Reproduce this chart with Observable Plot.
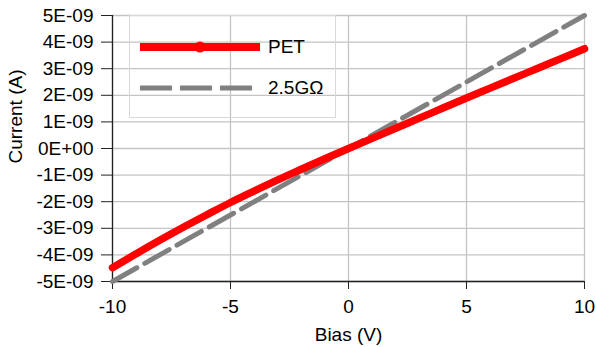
<!DOCTYPE html>
<html>
<head>
<meta charset="utf-8">
<script src="https://cdn.jsdelivr.net/npm/d3@7"></script>
<script src="https://cdn.jsdelivr.net/npm/@observablehq/plot@0.6"></script>
<style>
  html, body { margin: 0; padding: 0; background: #fff; }
  #wrap { position: relative; width: 595px; height: 347px; font-family: "Liberation Sans", Arial, sans-serif; }
  #legend { position: absolute; left: 129px; top: 15px; width: 207px; height: 103px; border: 1px solid #d9d9d9; box-sizing: border-box; }
  #legend .item { position: absolute; left: 10px; height: 20px; display: flex; align-items: center; }
  #legend .label { font-size: 19px; margin-left: 8px; color: #000; }
</style>
</head>
<body>
<div id="wrap"></div>
<script>
const bias = [-10, -9, -8, -7, -6, -5, -4, -3, -2, -1, 0, 1, 2, 3, 4, 5, 6, 7, 8, 9, 10];
const petCurrent = [-4.48e-9, -3.96e-9, -3.45e-9, -2.96e-9, -2.49e-9, -2.03e-9, -1.6e-9, -1.18e-9, -0.78e-9, -0.385e-9, 0, 0.38e-9, 0.76e-9, 1.14e-9, 1.52e-9, 1.9e-9, 2.27e-9, 2.64e-9, 3.01e-9, 3.38e-9, 3.75e-9];
const refBias = [-10, 10];
const refCurrent = [-5e-9, 5e-9];
const xTicks = [-10, -5, 0, 5, 10];
const xTickLabels = ["-10", "-5", "0", "5", "10"];
const yTicks = [-5e-9, -4e-9, -3e-9, -2e-9, -1e-9, 0, 1e-9, 2e-9, 3e-9, 4e-9, 5e-9];
const yTickLabels = ["-5E-09", "-4E-09", "-3E-09", "-2E-09", "-1E-09", "0E+00", "1E-09", "2E-09", "3E-09", "4E-09", "5E-09"];
const seriesNames = ["PET", "2.5GΩ"];

const pet = bias.map((b, i) => ({b, c: petCurrent[i]}));
const ref = refBias.map((b, i) => ({b, c: refCurrent[i]}));

const chart = Plot.plot({
  width: 595, height: 347,
  marginLeft: 112, marginRight: 11, marginTop: 15, marginBottom: 66,
  style: {fontFamily: "'Liberation Sans', Arial, sans-serif", fontSize: "19px", color: "#000", background: "#fff", overflow: "visible"},
  x: {domain: [-10, 10], label: null},
  y: {domain: [-5e-9, 5e-9], label: null},
  marks: [
    Plot.gridX(xTicks, {stroke: "#c4c4c4", strokeOpacity: 1, strokeWidth: 1.3}),
    Plot.gridY(yTicks, {stroke: "#c4c4c4", strokeOpacity: 1, strokeWidth: 1.3}),
    Plot.axisX(xTicks, {tickSize: 8, tickPadding: 10, stroke: "#222", label: null, fontSize: 19,
      tickFormat: d => xTickLabels[xTicks.indexOf(d)]}),
    Plot.axisY(yTicks, {tickSize: 11, tickPadding: 8, stroke: "#222", label: null, fontSize: 19,
      tickFormat: d => yTickLabels[yTicks.indexOf(d)]}),
    Plot.ruleX([-10], {stroke: "#222", strokeWidth: 1.3}),
    Plot.ruleY([-5e-9], {stroke: "#222", strokeWidth: 1.3}),
    Plot.line(ref, {x: "b", y: "c", stroke: "#808080", strokeWidth: 5, strokeDasharray: "28,9"}),
    Plot.line(pet, {x: "b", y: "c", stroke: "#ff0000", strokeWidth: 7.5, curve: "monotone-x"}),
    Plot.text(["Bias (V)"], {frameAnchor: "bottom", dy: 53, lineAnchor: "middle", fontSize: 19, fill: "#000"}),
    Plot.text(["Current (A)"], {frameAnchor: "left", dx: -97, dy: 15, rotate: -90, lineAnchor: "middle", fontSize: 19, fill: "#000"})
  ]
});

const wrap = document.getElementById("wrap");
wrap.appendChild(chart);

const legend = document.createElement("div");
legend.id = "legend";
legend.innerHTML = `
  <div class="item" style="top:21px">
    <svg width="120" height="20"><line x1="0" y1="10" x2="120" y2="10" stroke="#ff0000" stroke-width="8"/><circle cx="60" cy="10" r="5.5" fill="#ff0000"/></svg>
    <span class="label">${seriesNames[0]}</span>
  </div>
  <div class="item" style="top:62px">
    <svg width="120" height="20"><line x1="0" y1="10" x2="120" y2="10" stroke="#808080" stroke-width="5" stroke-dasharray="32,8"/></svg>
    <span class="label">${seriesNames[1]}</span>
  </div>`;
wrap.appendChild(legend);
</script>
</body>
</html>
